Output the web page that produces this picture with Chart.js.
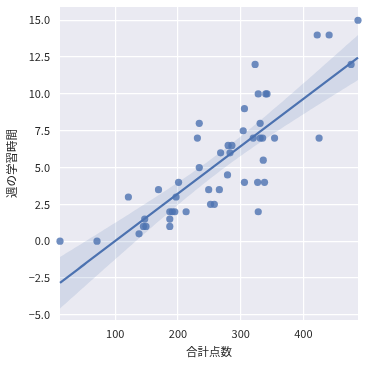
<!DOCTYPE html>
<html>
<head>
<meta charset="utf-8">
<script src="https://cdn.jsdelivr.net/npm/chart.js@4"></script>
<style>
  html, body { margin: 0; padding: 0; background: #ffffff; }
  #wrap { width: 365px; height: 365px; }
</style>
</head>
<body>
<div id="wrap"><canvas id="chart" width="365" height="365"></canvas></div>
<script>
        // Data
        const totalScore = [12, 71, 121, 138, 145, 149, 147, 169, 187, 191, 195, 187, 187, 197, 201, 213,
            234, 231, 234, 249, 266, 252, 258, 279, 268, 283, 280, 286, 304, 306, 306, 320, 331, 335,
            354, 331, 336, 327, 338, 328, 323, 328, 340, 342, 422, 441, 476, 487, 425];
        const studyHours = [0, 0, 3, 0.5, 1, 1, 1.5, 3.5, 2, 2, 2, 1.5, 1, 3, 4, 2,
            5, 7, 8, 3.5, 3.5, 2.5, 2.5, 4.5, 6, 6, 6.5, 6.5, 7.5, 9, 4, 7, 7, 7,
            7, 8, 5.5, 4, 4, 2, 12, 10, 10, 10, 14, 14, 12, 15, 7];
        const xTicks = [100, 200, 300, 400];
        const yTicks = [-5, -2.5, 0, 2.5, 5, 7.5, 10, 12.5, 15];
        const xLabel = '合計点数';
        const yLabel = '週の学習時間';

        const blue = '#4C72B0';
        const font = "'Noto Sans CJK JP', 'DejaVu Sans', sans-serif";

        // Ordinary least squares fit with a 95% confidence band
        function fitLine(xs, ys) {
            const n = xs.length;
            const mx = xs.reduce((a, b) => a + b, 0) / n;
            const my = ys.reduce((a, b) => a + b, 0) / n;
            let sxx = 0, sxy = 0;
            for (let i = 0; i < n; i++) {
                sxx += (xs[i] - mx) ** 2;
                sxy += (xs[i] - mx) * (ys[i] - my);
            }
            const slope = sxy / sxx;
            const icpt = my - slope * mx;
            let sse = 0;
            for (let i = 0; i < n; i++) sse += (ys[i] - icpt - slope * xs[i]) ** 2;
            const s = Math.sqrt(sse / (n - 2));
            return { slope, icpt, s, n, mx, sxx };
        }

        const fit = fitLine(totalScore, studyHours);
        const xMin = Math.min(...totalScore);
        const xMax = Math.max(...totalScore);
        const gridX = [];
        for (let i = 0; i <= 100; i++) gridX.push(xMin + (xMax - xMin) * i / 100);
        const tCrit = 2.012;
        const lineData = gridX.map(x => ({ x, y: fit.icpt + fit.slope * x }));
        const halfWidth = x => tCrit * fit.s * Math.sqrt(1 / fit.n + (x - fit.mx) ** 2 / fit.sxx);
        const upperData = gridX.map(x => ({ x, y: fit.icpt + fit.slope * x + halfWidth(x) }));
        const lowerData = gridX.map(x => ({ x, y: fit.icpt + fit.slope * x - halfWidth(x) }));
        const points = totalScore.map((x, i) => ({ x, y: studyHours[i] }));

        // Seaborn darkgrid background
        const bgPlugin = {
            id: 'bg',
            beforeDraw(chart) {
                const { ctx, chartArea: a } = chart;
                ctx.save();
                ctx.fillStyle = '#EAEAF2';
                ctx.fillRect(a.left, a.top, a.right - a.left, a.bottom - a.top);
                ctx.restore();
            }
        };

        new Chart(document.getElementById('chart').getContext('2d'), {
            type: 'scatter',
            data: {
                datasets: [
                    {
                        type: 'line',
                        data: lineData,
                        borderColor: blue,
                        borderWidth: 2.2,
                        pointRadius: 0,
                        fill: false
                    },
                    {
                        type: 'line',
                        data: upperData,
                        borderWidth: 0,
                        borderColor: 'rgba(0,0,0,0)',
                        pointRadius: 0,
                        fill: '+1',
                        backgroundColor: 'rgba(76, 114, 176, 0.15)'
                    },
                    {
                        type: 'line',
                        data: lowerData,
                        borderWidth: 0,
                        borderColor: 'rgba(0,0,0,0)',
                        pointRadius: 0,
                        fill: false
                    },
                    {
                        data: points,
                        pointRadius: 3.6,
                        pointBackgroundColor: 'rgba(76, 114, 176, 0.8)',
                        pointBorderWidth: 0,
                        borderColor: 'rgba(0,0,0,0)'
                    }
                ]
            },
            options: {
                responsive: false,
                animation: false,
                clip: false,
                layout: { padding: { left: 0, top: 7, right: 7, bottom: 0 } },
                plugins: {
                    legend: { display: false },
                    tooltip: { enabled: false }
                },
                scales: {
                    x: {
                        type: 'linear',
                        min: xMin,
                        max: xMax,
                        afterBuildTicks: s => { s.ticks = xTicks.map(v => ({ value: v })); },
                        afterFit: s => { s.height = 45; s.paddingLeft = 0; s.paddingRight = 0; },
                        grid: { color: '#ffffff', lineWidth: 1.2, drawTicks: false },
                        border: { display: false },
                        ticks: {
                            padding: 7,
                            color: '#262626',
                            font: { family: font, size: 11 },
                            callback: v => String(v)
                        },
                        title: {
                            display: true,
                            text: xLabel,
                            color: '#262626',
                            font: { family: font, size: 11.5 },
                            padding: { top: 0, bottom: 6 }
                        }
                    },
                    y: {
                        type: 'linear',
                        min: -5.35,
                        max: 15.9,
                        afterBuildTicks: s => { s.ticks = yTicks.map(v => ({ value: v })); },
                        afterFit: s => { s.width = 60; s.paddingTop = 0; s.paddingBottom = 0; },
                        grid: { color: '#ffffff', lineWidth: 1.2, drawTicks: false },
                        border: { display: false },
                        ticks: {
                            padding: 10,
                            color: '#262626',
                            font: { family: font, size: 11 },
                            callback: v => (v < 0 ? '\u2212' + Math.abs(v).toFixed(1) : v.toFixed(1))
                        },
                        title: {
                            display: true,
                            text: yLabel,
                            color: '#262626',
                            font: { family: font, size: 11.5 },
                            padding: { top: 5, bottom: 0 }
                        }
                    }
                }
            },
            plugins: [bgPlugin]
        });
</script>
</body>
</html>
